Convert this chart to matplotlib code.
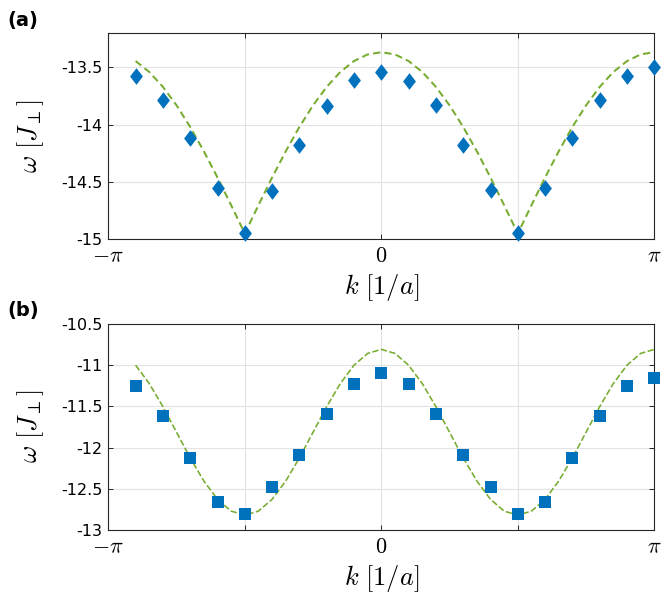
import numpy as np
import matplotlib
matplotlib.use("Agg")
import matplotlib.pyplot as plt
from matplotlib.path import Path

plt.rcParams['mathtext.fontset'] = 'cm'
plt.rcParams['lines.scale_dashes'] = False

# ---- data (k in units of pi) ----
k_pts = np.arange(-9, 11) / 10.0          # -0.9 .. 1.0
omega_a_pts = [-13.578, -13.787, -14.12, -14.555, -14.948, -14.578, -14.178, -13.836, -13.613, -13.54,
               -13.619, -13.83, -14.178, -14.57, -14.948, -14.555, -14.12, -13.787, -13.578, -13.497]
omega_b_pts = [-11.26, -11.615, -12.13, -12.655, -12.80, -12.473, -12.088, -11.595, -11.227, -11.097,
               -11.227, -11.595, -12.088, -12.473, -12.81, -12.663, -12.13, -11.615, -11.26, -11.158]

k_curve = np.arange(-18, 21) / 20.0       # -0.9 .. 1.0 in steps of 0.05
omega_a_curve = [-13.447, -13.542, -13.672, -13.833, -14.021, -14.233, -14.462, -14.703, -14.950,
                 -14.703, -14.462, -14.233, -14.021, -13.833, -13.672, -13.542, -13.447, -13.389,
                 -13.370,
                 -13.389, -13.447, -13.542, -13.672, -13.833, -14.021, -14.233, -14.462, -14.703,
                 -14.950,
                 -14.703, -14.462, -14.233, -14.021, -13.833, -13.672, -13.542, -13.447, -13.389,
                 -13.370]
omega_b_curve = [-11.002, -11.224, -11.504, -11.815, -12.126, -12.406, -12.628, -12.771, -12.820,
                 -12.771, -12.628, -12.406, -12.126, -11.815, -11.504, -11.224, -11.002, -10.859,
                 -10.810,
                 -10.859, -11.002, -11.224, -11.504, -11.815, -12.126, -12.406, -12.628, -12.771,
                 -12.820,
                 -12.771, -12.628, -12.406, -12.126, -11.815, -11.504, -11.224, -11.002, -10.859,
                 -10.810]

yticks_a = [-15, -14.5, -14, -13.5]
yticklabels_a = ['-15', '-14.5', '-14', '-13.5']
yticks_b = [-13, -12.5, -12, -11.5, -11, -10.5]
yticklabels_b = ['-13', '-12.5', '-12', '-11.5', '-11', '-10.5']
xticks = [-1, -0.5, 0, 0.5, 1]
xticklabels = [r'$-\pi$', '', r'$0$', '', r'$\pi$']

BLUE = '#0072BD'
GREEN = '#77AC30'
AXC = '#262626'

diamond = Path([(0, 1), (0.77, 0), (0, -1), (-0.77, 0), (0, 1)],
               [Path.MOVETO, Path.LINETO, Path.LINETO, Path.LINETO, Path.CLOSEPOLY])

fig = plt.figure(figsize=(6.61, 5.97), dpi=100)
W, H = 661.0, 597.0
ax_a = fig.add_axes([108.3 / W, 1 - 239.3 / H, 546 / W, 206.6 / H])
ax_b = fig.add_axes([108.3 / W, 1 - 530 / H, 546 / W, 206.2 / H])

def style(ax, yt, ytl, ylim):
    ax.set_xlim(-np.pi, np.pi)
    ax.set_ylim(*ylim)
    ax.set_xticks(np.array(xticks) * np.pi)
    ax.set_xticklabels(xticklabels, fontsize=16)
    ax.set_yticks(yt)
    ax.set_yticklabels(ytl, fontsize=11.5, family='DejaVu Sans')
    ax.grid(True, color='#e3e3e3', linewidth=0.8)
    ax.set_axisbelow(True)
    ax.tick_params(direction='in', length=3.5, width=0.7, color=AXC,
                   top=True, right=True, labelcolor='black')
    ax.tick_params(axis='x', pad=5)
    ax.tick_params(axis='y', pad=4)
    for s in ax.spines.values():
        s.set_color(AXC)
        s.set_linewidth(0.8)
    ax.set_xlabel(r'$k\ [1/a]$', fontsize=19)
    ax.set_ylabel(r'$\omega\ [J_\perp]$', fontsize=19)
    ax.yaxis.set_label_coords(-0.114, 0.5)

style(ax_a, yticks_a, yticklabels_a, (-15, -13.2))
style(ax_b, yticks_b, yticklabels_b, (-13, -10.5))
ax_a.xaxis.set_label_coords(0.5, -0.16)
ax_b.xaxis.set_label_coords(0.5, -0.16)

ax_a.plot(np.array(k_curve) * np.pi, omega_a_curve, color=GREEN, linewidth=1.45,
          dashes=(5.2, 3.0), zorder=3, clip_on=False)
ax_a.plot(np.array(k_pts) * np.pi, omega_a_pts, linestyle='none', marker=diamond,
          markersize=12, color=BLUE, markeredgewidth=0, zorder=4, clip_on=False)

ax_b.plot(np.array(k_curve) * np.pi, omega_b_curve, color=GREEN, linewidth=1.15,
          dashes=(4.5, 1.8), zorder=3, clip_on=False)
ax_b.plot(np.array(k_pts) * np.pi, omega_b_pts, linestyle='none', marker='s',
          markersize=8.4, color=BLUE, markeredgewidth=0, zorder=4, clip_on=False)

fig.text(7 / W, 1 - 11 / H, '(a)', fontsize=14, fontweight='bold', ha='left', va='top',
         family='DejaVu Sans')
fig.text(7 / W, 1 - 301 / H, '(b)', fontsize=14, fontweight='bold', ha='left', va='top',
         family='DejaVu Sans')

fig.savefig('out.png', dpi=100)
